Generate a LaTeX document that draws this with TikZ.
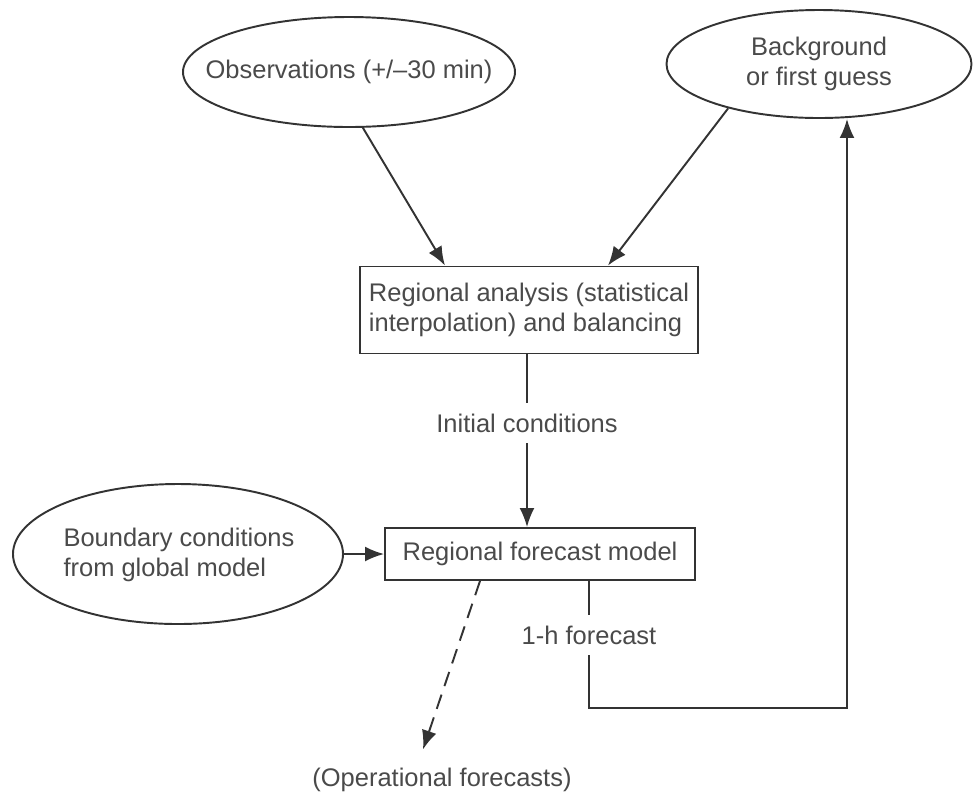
\documentclass[tikz,border=0pt]{standalone}
\usepackage{fontspec}
\setmainfont{Liberation Sans}
\usetikzlibrary{arrows.meta,shapes.geometric}
\definecolor{ink}{HTML}{333333}
\definecolor{txt}{HTML}{4A4A4A}

\begin{document}
\begin{tikzpicture}[
    font=\fontsize{14.5}{17}\selectfont,
    every node/.style={text=txt},
    oval/.style={ellipse, draw=ink, line width=1.1pt, inner sep=0pt},
    box/.style={rectangle, draw=ink, line width=1.1pt, inner sep=0pt},
    tag/.style={inner sep=0pt, minimum height=0.8cm},
    link/.style={draw=ink, line width=1.1pt},
    flow/.style={link, -{Latex[length=0.38cm,width=0.3cm]}},
  ]
  \useasboundingbox (0,0) rectangle (19.46,-15.92);
  \node[oval, minimum width=6.64cm, minimum height=2.2cm] (obs) at (6.98,-1.44) {};
  \node (obs-t) at (obs) {Observations (+/–30 min)};
  \node[oval, minimum width=6.1cm, minimum height=2.16cm] (bg) at (16.38,-1.28) {};
  \node[align=center] (bg-t) at (bg) {Background\\or first guess};
  \node[box, align=left, minimum width=6.76cm, minimum height=1.74cm] (ana) at (10.58,-6.2)
    {Regional analysis (statistical\\interpolation) and balancing};
  \node[tag] (init) at (10.54,-8.46) {Initial conditions};
  \node[box, minimum width=6.2cm, minimum height=1.04cm] (fc) at (10.8,-11.08) {Regional forecast model};
  \node[oval, minimum width=6.6cm, minimum height=2.8cm] (bnd) at (3.56,-11.08) {};
  \node[align=left] (bnd-t) at (3.58,-11.1) {Boundary conditions\\from global model};
  \node[tag] (hfc) at (11.78,-12.7) {1-h forecast};
  \node (ops) at (8.84,-15.6) {(Operational forecasts)};
  \coordinate (c1) at (11.78,-14.16);
  \coordinate (c2) at (16.94,-14.16);

  \draw[flow] (obs.-76) -- ([xshift=-1.68cm]ana.north);
  \draw[flow] (bg.206) -- ([xshift=1.58cm]ana.north);
  \draw[link] (ana.south -| init) -- (init);
  \draw[flow] (init) -- (init |- fc.north);
  \draw[flow] (bnd) -- (fc);
  \draw[flow, dash pattern=on 0.3cm off 0.18cm] ([xshift=-1.2cm]fc.south) -- ([xshift=-0.38cm,yshift=0.25cm]ops.north);
  \draw[link] (fc.south -| hfc) -- (hfc);
  \draw[flow] (hfc) -- (c1) -- (c2) -- (c2 |- bg.south);
\end{tikzpicture}
\end{document}
